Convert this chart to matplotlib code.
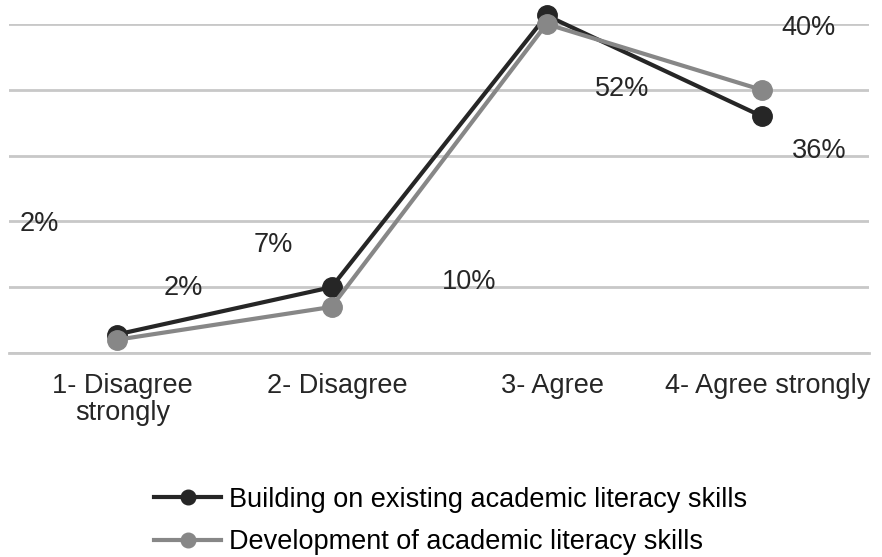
import matplotlib.pyplot as plt
from matplotlib.transforms import ScaledTranslation

plt.rcParams['font.family'] = ['Liberation Sans', 'DejaVu Sans']

# categories and the two series (percent)
categories = ['1- Disagree\nstrongly', '2- Disagree', '3- Agree', '4- Agree strongly']
building = [2.8, 10, 51.3, 36]
development = [2, 7, 50, 40]
series_names = ['Building on existing academic literacy skills',
                'Development of academic literacy skills']

# data labels as they sit in the original (text, x, y in data units)
label_texts = ['2%', '2%', '7%', '10%', '52%', '40%', '36%']
label_x = [-0.36, 0.31, 0.73, 1.64, 2.35, 3.22, 3.27]
label_y = [19.6, 9.9, 16.4, 10.8, 40.1, 49.4, 30.7]

fs = 19.5
fig = plt.figure(figsize=(8.82, 5.57), dpi=100)
ax = fig.add_axes([9 / 882, 1 - 353 / 557, 860 / 882, 329 / 557])

x = range(len(categories))
ax.plot(x, building, color='#262626', lw=3, marker='o', ms=14,
        label=series_names[0], clip_on=False, zorder=3)
ax.plot(x, development, color='#878787', lw=3, marker='o', ms=14,
        label=series_names[1], clip_on=False, zorder=4)

for t, lx, ly in zip(label_texts, label_x, label_y):
    ax.text(lx, ly, t, fontsize=fs, color='#262626', ha='center', va='center')

ax.set_xlim(-0.5, len(categories) - 0.5)
ax.set_ylim(0, 50)
ax.set_yticks(range(0, 51, 10))
ax.yaxis.grid(True, color='#c8c8c8', lw=2)
ax.set_axisbelow(True)
ax.tick_params(left=False, bottom=False, labelleft=False, pad=11)
ax.set_xticks(list(x))
ax.set_xticklabels(categories, fontsize=fs, color='#262626', linespacing=1.05)
shift = ScaledTranslation(6 / 100, 0, fig.dpi_scale_trans)
for lbl in ax.get_xticklabels():
    lbl.set_transform(lbl.get_transform() + shift)
for s in ['top', 'right', 'left']:
    ax.spines[s].set_visible(False)
ax.spines['bottom'].set_color('#c8c8c8')
ax.spines['bottom'].set_linewidth(2)

fig.legend(loc='center left', bbox_to_anchor=(130 / 882, 1 - 521 / 557),
           frameon=False, fontsize=fs, handlelength=2.45, handletextpad=0.3,
           labelspacing=0.6, markerscale=0.75)

fig.savefig('out.png', dpi=100)
